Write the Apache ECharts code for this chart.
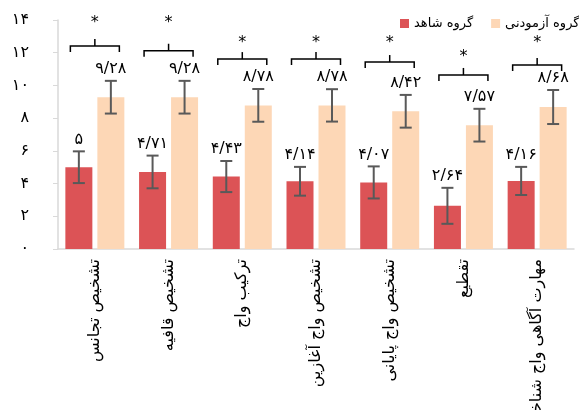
<!DOCTYPE html>
<html>
<head>
<meta charset="utf-8">
<script src="https://cdn.jsdelivr.net/npm/echarts@6/dist/echarts.min.js"></script>
<style>html,body{margin:0;padding:0;background:#fff;}#c{width:579px;height:410px;}</style>
</head>
<body>
<div id="c"></div>
<script>
const categories = ['تشخیص تجانس','تشخیص قافیه','ترکیب واج','تشخیص واج آغازین','تشخیص واج پایانی','تقطیع','مهارت آگاهی واج شناختی'];
const seriesNames = ['گروه شاهد','گروه آزمودنی'];
const controlValues = [5, 4.71, 4.43, 4.14, 4.07, 2.64, 4.16];
const experimentValues = [9.28, 9.28, 8.78, 8.78, 8.42, 7.57, 8.68];
const controlErrors = [0.97, 1.0, 0.95, 0.88, 0.98, 1.1, 0.86];
const experimentErrors = [1.0, 1.0, 1.0, 0.99, 1.0, 1.0, 1.04];
const controlLabels = ['۵','۴/۷۱','۴/۴۳','۴/۱۴','۴/۰۷','۲/۶۴','۴/۱۶'];
const experimentLabels = ['۹/۲۸','۹/۲۸','۸/۷۸','۸/۷۸','۸/۴۲','۷/۵۷','۸/۶۸'];
const yTickLabels = ['۰','۲','۴','۶','۸','۱۰','۱۲','۱۴'];
const bracketLevels = [12.41, 12.12, 11.61, 11.61, 11.43, 10.64, 11.25];
const asteriskLevels = [13.81, 13.81, 12.59, 12.59, 12.59, 11.74, 12.59];

const FONT = '"DejaVu Sans", sans-serif';
const RED = '#DC5356';
const PEACH = '#FDD7B6';

function errorSeries(values, errors, labels, offset) {
  return {
    type: 'custom',
    data: values.map((v, i) => [i, v, errors[i]]),
    encode: { x: 0, y: 1 },
    z: 10,
    silent: true,
    renderItem: function (params, api) {
      const i = api.value(0), v = api.value(1), e = api.value(2);
      const top = api.coord([i, v + e]);
      const bot = api.coord([i, v - e]);
      const x = top[0] + offset;
      const st = { stroke: '#595959', lineWidth: 2 };
      return {
        type: 'group',
        children: [
          { type: 'line', shape: { x1: x, y1: top[1], x2: x, y2: bot[1] }, style: st },
          { type: 'line', shape: { x1: x - 6, y1: top[1], x2: x + 6, y2: top[1] }, style: st },
          { type: 'line', shape: { x1: x - 6, y1: bot[1], x2: x + 6, y2: bot[1] }, style: st },
          { type: 'text', x: x, y: top[1] - 4, style: { text: labels[params.dataIndex], fill: '#000', font: '16px ' + FONT, textAlign: 'center', textVerticalAlign: 'bottom' } }
        ]
      };
    }
  };
}

const chart = echarts.init(document.getElementById('c'), null, { renderer: 'canvas' });
chart.setOption({
  animation: false,
  backgroundColor: '#fff',
  textStyle: { fontFamily: FONT },
  legend: {
    left: 395, top: 12, width: 300, orient: 'horizontal',
    itemWidth: 9, itemHeight: 9, itemGap: 18,
    icon: 'rect',
    textStyle: { fontSize: 13, color: '#000', fontFamily: FONT },
    data: seriesNames
  },
  grid: { left: 58, right: 5, top: 20, bottom: 161, containLabel: false, outerBoundsMode: 'none' },
  xAxis: {
    type: 'category',
    data: categories,
    axisLine: { lineStyle: { color: '#d9d9d9', width: 1.5 } },
    axisTick: { show: false },
    axisLabel: { rotate: 90, margin: 10, fontSize: 16, color: '#000', fontFamily: FONT, interval: 0 }
  },
  yAxis: {
    type: 'value', min: 0, max: 14, interval: 2,
    axisLine: { show: true, lineStyle: { color: '#d9d9d9', width: 1.5 } },
    axisTick: { show: true, length: 5, lineStyle: { color: '#d9d9d9' } },
    splitLine: { show: false },
    axisLabel: { margin: 29, fontSize: 16, color: '#000', fontFamily: FONT,
      formatter: function (v) { return yTickLabels[Math.round(v / 2)]; } }
  },
  series: [
    { name: seriesNames[0], type: 'bar', data: controlValues, barWidth: 27, barGap: '18.5%', itemStyle: { color: RED } },
    { name: seriesNames[1], type: 'bar', data: experimentValues, barWidth: 27, itemStyle: { color: PEACH } },
    errorSeries(controlValues, controlErrors, controlLabels, -16),
    errorSeries(experimentValues, experimentErrors, experimentLabels, 16),
    {
      type: 'custom',
      data: bracketLevels.map((b, i) => [i, b, asteriskLevels[i]]),
      encode: { x: 0, y: 1 },
      z: 10,
      silent: true,
      renderItem: function (params, api) {
        const i = api.value(0);
        const p = api.coord([i, api.value(1)]);
        const a = api.coord([i, api.value(2)]);
        const x = p[0], y = p[1];
        const st = { stroke: '#000', lineWidth: 1.5, fill: null };
        return {
          type: 'group',
          children: [
            { type: 'polyline', shape: { points: [[x - 24.5, y + 6], [x - 24.5, y], [x + 24.5, y], [x + 24.5, y + 6]] }, style: st },
            { type: 'line', shape: { x1: x, y1: y, x2: x, y2: y - 7 }, style: st },
            { type: 'text', x: x, y: a[1], style: { text: '*', fill: '#000', font: '16px ' + FONT, textAlign: 'center', textVerticalAlign: 'middle' } }
          ]
        };
      }
    }
  ]
});
</script>
</body>
</html>
